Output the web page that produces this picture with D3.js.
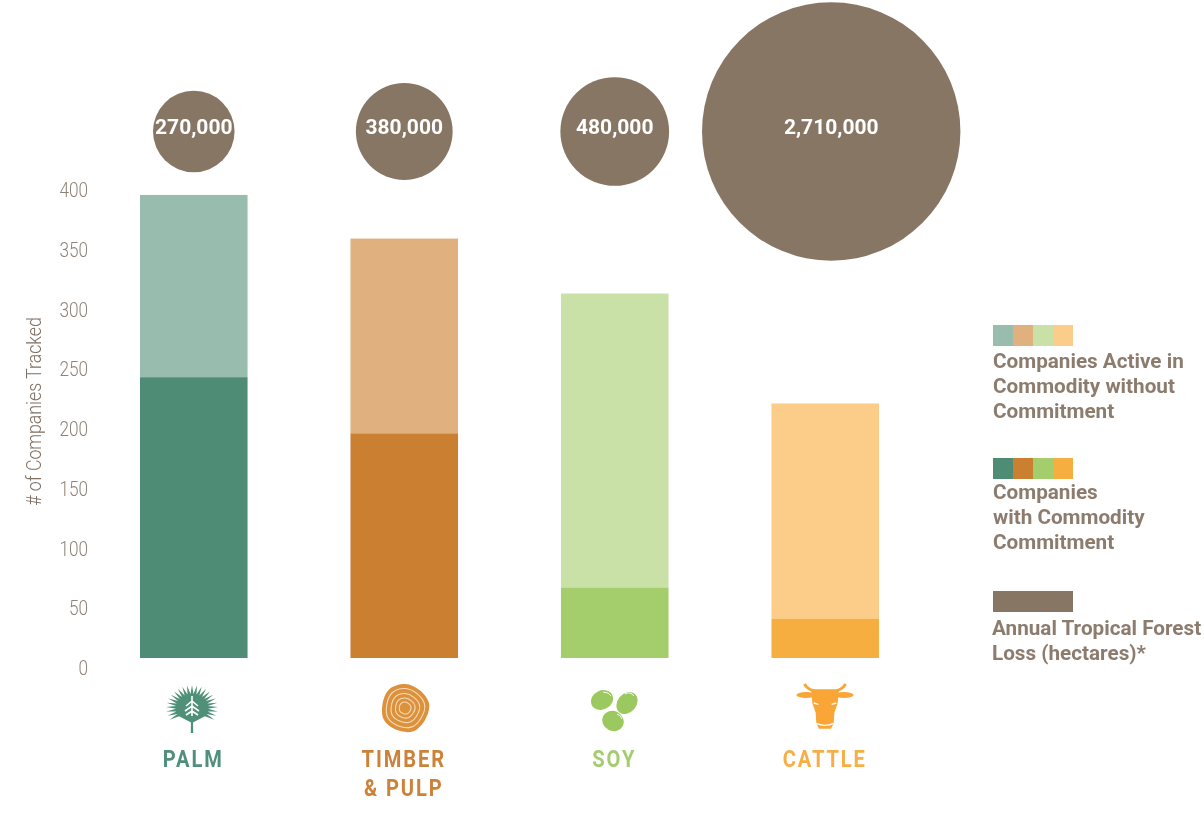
<!DOCTYPE html>
<html>
<head>
<meta charset="utf-8">
<script src="https://cdnjs.cloudflare.com/ajax/libs/d3/7.8.5/d3.min.js"></script>
<style>
html,body{margin:0;padding:0;background:#fff}
svg{display:block;filter:blur(0.45px)}
text{font-family:Roboto,sans-serif}
</style>
</head>
<body>
<svg id="chart" width="1204" height="813"></svg>
<script>
const categories = ["PALM", "TIMBER\n& PULP", "SOY", "CATTLE"];
const withCommitment = [235, 188, 59, 33];
const withoutCommitment = [152.5, 163, 246, 180];
const forestLoss = [270000, 380000, 480000, 2710000];
const tickValues = [0, 50, 100, 150, 200, 250, 300, 350, 400];
const darkColors = ["#4f8c76", "#cb7f30", "#a3ce6b", "#f7ae40"];
const lightColors = ["#98bcae", "#e0b17e", "#c9e0a6", "#fbcd88"];
const labelColors = ["#4f8f7c", "#cc8238", "#a5cd70", "#f6ae47"];
const brown = "#887665";
const legendBlocks = [
  {colors: lightColors, lines: ["Companies Active in", "Commodity without", "Commitment"]},
  {colors: darkColors, lines: ["Companies", "with Commodity", "Commitment"]},
  {colors: [brown], lines: ["Annual Tropical Forest", "Loss (hectares)*"]}
];

const svg = d3.select("#chart");
const x = d3.scaleBand().domain(categories).range([140, 879]).paddingInner(0.489).paddingOuter(0);
const y = d3.scaleLinear().domain([0, 400]).range([658, 180]);
const r = d3.scaleSqrt().domain([0, 2710000]).range([0, 129.2]);

// axis
const axis = svg.append("g").attr("transform", "translate(88,9.3)")
  .call(d3.axisLeft(y).tickValues(tickValues).tickSize(0).tickPadding(0));
axis.select(".domain").remove();
axis.selectAll("text")
  .attr("x", 0).attr("dy", "0.36em")
  .attr("transform", "scale(0.86,1)")
  .style("font-family", "Roboto").style("font-size", "20px").style("font-weight", 300)
  .attr("fill", "#8f8377");

svg.append("text")
  .attr("transform", "translate(41,411.5) rotate(-90) scale(0.885,1)")
  .attr("text-anchor", "middle")
  .style("font-size", "20px").style("font-weight", 300)
  .attr("fill", "#7f7064")
  .text("# of Companies Tracked");

// bars
categories.forEach((c, i) => {
  const base = withCommitment[i], top = base + withoutCommitment[i];
  svg.append("rect").attr("x", x(c)).attr("width", x.bandwidth())
    .attr("y", y(top)).attr("height", y(base) - y(top)).attr("fill", lightColors[i]);
  svg.append("rect").attr("x", x(c)).attr("width", x.bandwidth())
    .attr("y", y(base)).attr("height", y(0) - y(base)).attr("fill", darkColors[i]);
});

// circles
const circleNudge = [0, 0, 0, 6];
categories.forEach((c, i) => {
  const cx = x(c) + x.bandwidth() / 2 + circleNudge[i];
  svg.append("circle").attr("cx", cx).attr("cy", 131.5).attr("r", r(forestLoss[i])).attr("fill", brown);
  svg.append("text").attr("x", cx).attr("y", 134)
    .attr("text-anchor", "middle").attr("fill", "#fff")
    .style("font-size", "21px").style("font-weight", 700)
    .text(d3.format(",")(forestLoss[i]));
});

// category labels
categories.forEach((c, i) => {
  const cx = x(c) + x.bandwidth() / 2 - 0.5;
  c.split("\n").forEach((line, j) => {
    svg.append("text")
      .attr("transform", `translate(${cx},${767 + j * 29}) scale(0.86,1)`)
      .attr("text-anchor", "middle").attr("fill", labelColors[i])
      .style("font-size", "23.4px").style("font-weight", 700).style("letter-spacing", "2.2px")
      .text(line);
  });
});

// legend
const swatchTops = [325, 458, 591];
const textTops = [368, 499, 635];
legendBlocks.forEach((b, k) => {
  const sw = d3.scaleBand().domain(d3.range(b.colors.length)).range([993, 1073]);
  b.colors.forEach((col, i) => {
    svg.append("rect").attr("x", sw(i)).attr("y", swatchTops[k])
      .attr("width", sw.bandwidth()).attr("height", 21).attr("fill", col);
  });
  b.lines.forEach((t, j) => {
    svg.append("text").attr("x", k === 2 ? 992 : 993).attr("y", textTops[k] + j * 25)
      .attr("fill", "#8c7c6e").style("font-size", "20.7px").style("font-weight", 700)
      .text(t);
  });
});

// icons
// palm
const palm = svg.append("g").attr("transform", "translate(192,708)");
const fan = [];
const spikes = 23;
for (let i = 0; i <= spikes; i++) {
  const a0 = -2.2 + 4.4 * i / spikes;
  const a1 = -2.2 + 4.4 * (i + 0.5) / spikes;
  fan.push([Math.sin(a0) * 16, -Math.cos(a0) * 14]);
  if (i < spikes) fan.push([Math.sin(a1) * 26, -Math.cos(a1) * 23 ]);
}
palm.append("path").attr("d", d3.line()(fan) + "L0,15Z").attr("fill", "#4f9079");
palm.append("path").attr("d", "M-1,10L1,10L1.2,25L-1.2,25Z").attr("fill", "#4f9079");
palm.append("path").attr("d", "M0,-12V8M-6,-2L0,-7L6,-2M-7,3L0,-2L7,3M-6,7L0,3L6,7").attr("fill", "none")
  .attr("stroke", "#fff").attr("stroke-width", 1.6);

// timber rings
const rings = svg.append("g").attr("transform", "translate(405,708)");
const radial = d3.lineRadial().curve(d3.curveCardinalClosed);
const wobble = [1, 0.96, 1.02, 0.97, 1.03, 0.98, 1.01, 0.95, 1.02];
const ringPath = rr => radial(wobble.map((w, i) => [i * 2 * Math.PI / wobble.length, rr * w]));
rings.append("path").attr("d", ringPath(24)).attr("fill", "#dc913c");
[19.5, 14.5, 10, 6].forEach(rr => {
  rings.append("path").attr("d", ringPath(rr)).attr("fill", "none").attr("stroke", "#f6dcb9").attr("stroke-width", 1.1);
});

// soy
const soy = svg.append("g").attr("fill", "#9cc95f");
[[602, 700, 11.5, 9.5, -25], [627, 703, 12, 9.5, -50], [613, 721, 11, 10, 25]].forEach(b => {
  soy.append("ellipse").attr("rx", b[2]).attr("ry", b[3])
    .attr("transform", `translate(${b[0]},${b[1]}) rotate(${b[4]})`);
});
svg.append("path").attr("d", "M603,692Q609,692 611,696M625,694Q630,691 634,696M617,714Q621,715 622,719")
  .attr("fill", "none").attr("stroke", "#fff").attr("stroke-width", 0.9);

// cattle
const cow = svg.append("g").attr("transform", "translate(825,670) scale(0.3333)");
const cowCol = "#f9a637";
cow.append("path").attr("fill", cowCol)
  .attr("d", "M-42,58L42,58L38,100L28,128L26,160L18,176L-18,176L-26,160L-28,128L-38,100Z");
cow.append("path").attr("fill", "none").attr("stroke", cowCol).attr("stroke-width", 9)
  .attr("d", "M-32,62Q-50,60 -62,42M32,62Q50,60 62,42");
cow.append("ellipse").attr("cx", -57).attr("cy", 75).attr("rx", 29).attr("ry", 9).attr("fill", cowCol);
cow.append("ellipse").attr("cx", 57).attr("cy", 75).attr("rx", 29).attr("ry", 9).attr("fill", cowCol);
cow.append("path").attr("fill", "none").attr("stroke", "#fff").attr("stroke-width", 4)
  .attr("d", "M-34,99L-20,103M34,99L20,103M-26,160Q0,172 26,160");
</script>
</body>
</html>
